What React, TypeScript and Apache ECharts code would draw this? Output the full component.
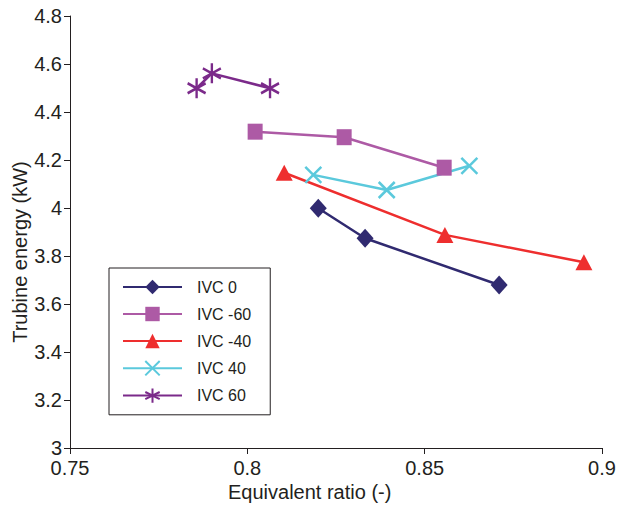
import React, { useEffect, useRef } from "react";
import * as echarts from "echarts";

const seriesNames = ["IVC 0", "IVC -60", "IVC -40", "IVC 40", "IVC 60"];
const ivc0X = [0.8200, 0.8332, 0.8710];
const ivc0Y = [3.999, 3.874, 3.679];
const ivcM60X = [0.8022, 0.8273, 0.8555];
const ivcM60Y = [4.318, 4.295, 4.168];
const ivcM40X = [0.8104, 0.8557, 0.8949];
const ivcM40Y = [4.147, 3.888, 3.774];
const ivc40X = [0.8186, 0.8393, 0.8626];
const ivc40Y = [4.138, 4.075, 4.176];
const ivc60X = [0.7857, 0.7900, 0.8064];
const ivc60Y = [4.499, 4.561, 4.499];

const colors = ["#302a70", "#ad5aa5", "#ee2e2e", "#5bc9dc", "#7b2a8a"];
const FONT = "Liberation Sans, Arial, sans-serif";

const pair = (xs: number[], ys: number[]) => xs.map((x, i) => [x, ys[i]]);

export default function App() {
  const ref = useRef<HTMLDivElement>(null);
  useEffect(() => {
    if (!ref.current) return;
    const chart = echarts.init(ref.current, null, { renderer: "svg" });
    const datasets = [
      pair(ivc0X, ivc0Y),
      pair(ivcM60X, ivcM60Y),
      pair(ivcM40X, ivcM40Y),
      pair(ivc40X, ivc40Y),
      pair(ivc60X, ivc60Y),
    ];
    const symbols: any[] = [
      { symbol: "diamond", symbolSize: [17, 19], filled: true },
      { symbol: "rect", symbolSize: [15, 16], filled: true },
      { symbol: "triangle", symbolSize: [17, 16], filled: true },
      { symbol: "path://M0,0L20,24M20,0L0,24", symbolSize: [16, 16], filled: false },
      { symbol: "path://M10,0L10,20M1,5L19,15M19,5L1,15", symbolSize: [18, 20], filled: false },
    ];
    const series = seriesNames.map((name, i) => ({
      name,
      type: "line",
      data: datasets[i],
      symbol: symbols[i].symbol,
      symbolSize: symbols[i].symbolSize,
      showSymbol: true,
      z: i === 1 ? 5 : 3,
      lineStyle: { color: colors[i], width: 2.5 },
      itemStyle: symbols[i].filled
        ? { color: colors[i] }
        : { color: "rgba(0,0,0,0)", borderColor: colors[i], borderWidth: 2.5 },
    }));
    chart.setOption({
      animation: false,
      color: colors,
      grid: { left: 70, right: 18, top: 16, bottom: 61, containLabel: false },
      xAxis: {
        type: "value",
        min: 0.75,
        max: 0.9,
        interval: 0.05,
        axisLine: { lineStyle: { color: "#231f20", width: 1 } },
        axisTick: { length: 6, lineStyle: { color: "#231f20" } },
        splitLine: { show: false },
        axisLabel: { color: "#231f20", fontSize: 20, fontFamily: FONT, margin: 10 },
      },
      yAxis: {
        type: "value",
        min: 3,
        max: 4.8,
        interval: 0.2,
        axisLine: { show: true, lineStyle: { color: "#231f20", width: 1 } },
        axisTick: { show: true, length: 6, lineStyle: { color: "#231f20" } },
        splitLine: { show: false },
        axisLabel: { color: "#231f20", fontSize: 20, fontFamily: FONT, margin: 8 },
      },
      legend: {
        orient: "vertical",
        left: 109,
        top: 268,
        data: seriesNames,
        itemWidth: 59,
        itemHeight: 18,
        itemGap: 11,
        padding: [11, 19, 11, 13],
        borderColor: "#231f20",
        borderWidth: 1,
        borderRadius: 0,
        textStyle: { color: "#231f20", fontSize: 16, fontFamily: FONT, padding: [0, 0, 0, 10] },
      },
      graphic: [
        {
          type: "text",
          left: 315 - 87,
          top: 482,
          style: { text: "Equivalent ratio (-)", fill: "#231f20", font: `20px ${FONT}` },
        },
        {
          type: "text",
          x: 20,
          y: 252,
          rotation: Math.PI / 2,
          style: {
            text: "Trubine energy (kW)",
            fill: "#231f20",
            font: `20px ${FONT}`,
            align: "center",
            verticalAlign: "middle",
          },
        },
      ],
      series,
    });
    return () => chart.dispose();
  }, []);
  return <div ref={ref} style={{ width: 620, height: 509, position: "absolute", left: 0, top: 0 }} />;
}
